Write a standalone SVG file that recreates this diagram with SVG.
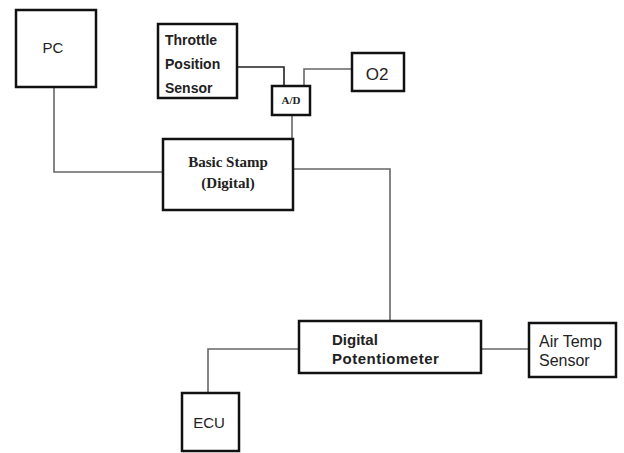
<svg xmlns="http://www.w3.org/2000/svg" width="624" height="453" viewBox="0 0 624 453">
<style>
.box{fill:#fff;stroke:#111;stroke-width:2.5}
.wire{fill:none;stroke:#666;stroke-width:1.6}
.wk{fill:none;stroke:#222;stroke-width:1.6}
text{font-family:"Liberation Sans",Arial,sans-serif;fill:#222}
.b{font-weight:bold;font-size:14px}
.n{font-size:15px}
.s{font-family:"Liberation Serif",serif;font-weight:bold}
</style>
<rect width="624" height="453" fill="#fff"/>
<g id="connectors">
<polyline class="wire" points="54,87 54,172 163,172"/>
<polyline class="wk" points="237,67 284,67 284,86"/>
<polyline class="wire" points="304,86 304,69 352,69"/>
<line class="wire" x1="292" y1="115" x2="292" y2="139"/>
<polyline class="wire" points="293,169 390,169 390,321"/>
<polyline class="wire" points="299,349 208,349 208,393"/>
<line class="wire" x1="481" y1="349" x2="529" y2="349"/>
</g>
<g id="pc"><rect class="box" x="16" y="10" width="80" height="77"/><text class="n" x="53" y="53" text-anchor="middle">PC</text></g>
<g id="tps"><rect class="box" x="158" y="24" width="79" height="74"/>
<text class="b" x="165" y="45">Throttle</text><text class="b" x="165" y="69">Position</text><text class="b" x="165" y="93">Sensor</text></g>
<g id="ad"><rect class="box" x="272" y="86" width="38" height="29"/><text class="s" x="291" y="104" text-anchor="middle" style="font-size:11px">A/D</text></g>
<g id="o2"><rect class="box" x="352" y="53" width="52" height="38"/><text x="377" y="80" text-anchor="middle" style="font-size:17px">O2</text></g>
<g id="stamp"><rect class="box" x="163" y="139" width="130" height="71"/>
<text class="s" x="228" y="167" text-anchor="middle" style="font-size:15px">Basic Stamp</text>
<text class="s" x="228" y="188" text-anchor="middle" style="font-size:15px">(Digital)</text></g>
<g id="pot"><rect class="box" x="299" y="321" width="182" height="52"/>
<text class="b" x="332" y="345" style="font-size:15px">Digital</text><text class="b" x="332" y="364" style="font-size:15px;letter-spacing:0.5px">Potentiometer</text></g>
<g id="air"><rect class="box" x="529" y="323" width="87" height="54"/>
<text x="539" y="347" style="font-size:16px">Air Temp</text><text x="539" y="366" style="font-size:16px">Sensor</text></g>
<g id="ecu"><rect class="box" x="182" y="393" width="57" height="58"/><text class="n" x="209" y="428" text-anchor="middle" style="font-size:15px">ECU</text></g>
</svg>
